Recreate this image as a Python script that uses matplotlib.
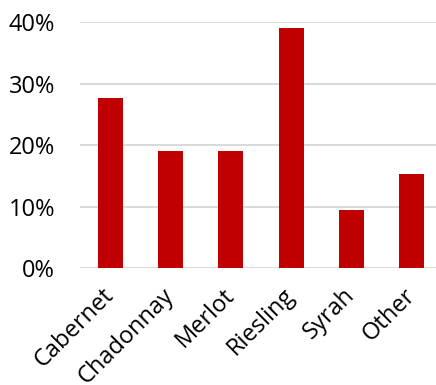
import matplotlib.pyplot as plt
from matplotlib.ticker import PercentFormatter

uvas = ['Cabernet', 'Chadonnay', 'Merlot', 'Riesling', 'Syrah', 'Other']
porcentajes = [27.7, 19.1, 19.1, 39.0, 9.5, 15.4]

plt.rcParams['font.family'] = ['Open Sans', 'DejaVu Sans']

fig = plt.figure(figsize=(4.36, 3.85), dpi=100)
ax = fig.add_axes([0.1835, 0.3026, 0.8165, 0.6403])

ax.bar(range(len(uvas)), porcentajes, width=0.41, color='#C00000', zorder=3)

ax.set_xlim(-0.5, 5.4)
ax.set_ylim(0, 40)
ax.set_yticks([0, 10, 20, 30, 40])
ax.yaxis.set_major_formatter(PercentFormatter(decimals=0))
ax.grid(axis='y', color='#D9D9D9', linewidth=1.4, zorder=0)
for lado in ['top', 'right', 'left', 'bottom']:
    ax.spines[lado].set_visible(False)
ax.axhline(0, color='#D9D9D9', linewidth=1.4, zorder=1)

ax.set_xticks(range(len(uvas)))
ax.set_xticklabels(uvas, rotation=45, ha='right', va='center', rotation_mode='anchor')
ax.tick_params(axis='both', length=0, labelsize=17, colors='black')
ax.tick_params(axis='y', pad=18)
ax.tick_params(axis='x', pad=17)
for etiqueta in ax.get_xticklabels():
    etiqueta.set_x(0)

fig.savefig('out.png', dpi=100)
